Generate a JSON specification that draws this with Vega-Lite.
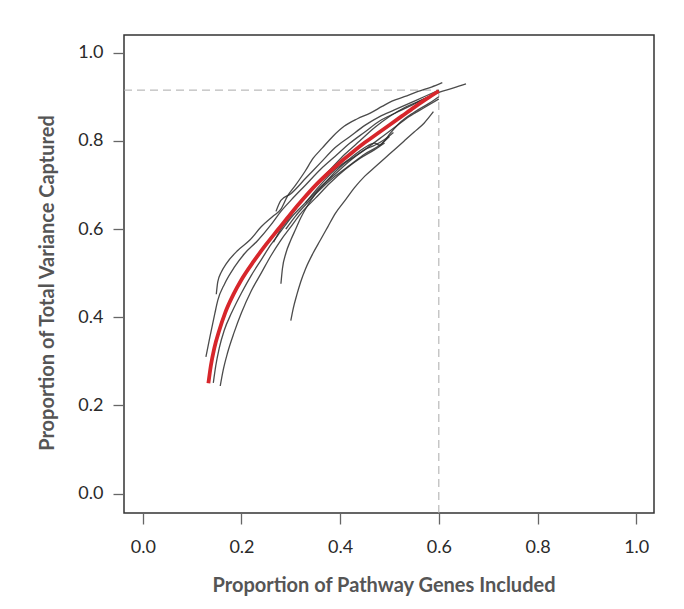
{
  "$schema": "https://vega.github.io/schema/vega-lite/v6.json",
  "width": 530,
  "height": 478,
  "autosize": {"type": "none"},
  "padding": {"left": 124, "top": 35, "right": 30, "bottom": 96},
  "background": "#ffffff",
  "config": {
    "view": {"stroke": "#333333", "strokeWidth": 1.5, "fill": "#ffffff"},
    "axis": {
      "labelFont": "Lato", "titleFont": "Lato",
      "labelFontSize": 18, "labelColor": "#2a2a2a",
      "titleFontSize": 20, "titleFontWeight": "bold", "titleColor": "#555555",
      "domain": false, "grid": false,
      "tickSize": 11, "tickColor": "#666666", "tickWidth": 1.3
    }
  },
  "datasets": {
    "curves": [
      {"id": "c1", "x": 0.149, "y": 0.452}, {"id": "c1", "x": 0.152, "y": 0.48}, {"id": "c1", "x": 0.159, "y": 0.502}, {"id": "c1", "x": 0.169, "y": 0.521}, {"id": "c1", "x": 0.193, "y": 0.552}, {"id": "c1", "x": 0.217, "y": 0.575}, {"id": "c1", "x": 0.24, "y": 0.605}, {"id": "c1", "x": 0.265, "y": 0.63}, {"id": "c1", "x": 0.28, "y": 0.645}, {"id": "c1", "x": 0.293, "y": 0.674}, {"id": "c1", "x": 0.31, "y": 0.7}, {"id": "c1", "x": 0.329, "y": 0.731}, {"id": "c1", "x": 0.345, "y": 0.76}, {"id": "c1", "x": 0.364, "y": 0.784}, {"id": "c1", "x": 0.385, "y": 0.81}, {"id": "c1", "x": 0.408, "y": 0.833}, {"id": "c1", "x": 0.435, "y": 0.85}, {"id": "c1", "x": 0.461, "y": 0.863}, {"id": "c1", "x": 0.485, "y": 0.878}, {"id": "c1", "x": 0.505, "y": 0.89}, {"id": "c1", "x": 0.53, "y": 0.9}, {"id": "c1", "x": 0.558, "y": 0.912}, {"id": "c1", "x": 0.585, "y": 0.922}, {"id": "c1", "x": 0.607, "y": 0.932},
      {"id": "c2", "x": 0.128, "y": 0.31}, {"id": "c2", "x": 0.136, "y": 0.355}, {"id": "c2", "x": 0.146, "y": 0.408}, {"id": "c2", "x": 0.152, "y": 0.438}, {"id": "c2", "x": 0.166, "y": 0.476}, {"id": "c2", "x": 0.186, "y": 0.514}, {"id": "c2", "x": 0.206, "y": 0.544}, {"id": "c2", "x": 0.233, "y": 0.574}, {"id": "c2", "x": 0.26, "y": 0.61}, {"id": "c2", "x": 0.28, "y": 0.64}, {"id": "c2", "x": 0.3, "y": 0.665}, {"id": "c2", "x": 0.33, "y": 0.7}, {"id": "c2", "x": 0.36, "y": 0.735}, {"id": "c2", "x": 0.39, "y": 0.765}, {"id": "c2", "x": 0.42, "y": 0.795}, {"id": "c2", "x": 0.45, "y": 0.82}, {"id": "c2", "x": 0.48, "y": 0.845}, {"id": "c2", "x": 0.51, "y": 0.862}, {"id": "c2", "x": 0.54, "y": 0.878}, {"id": "c2", "x": 0.57, "y": 0.895}, {"id": "c2", "x": 0.6, "y": 0.91}, {"id": "c2", "x": 0.63, "y": 0.92}, {"id": "c2", "x": 0.655, "y": 0.929},
      {"id": "c3", "x": 0.143, "y": 0.251}, {"id": "c3", "x": 0.148, "y": 0.29}, {"id": "c3", "x": 0.155, "y": 0.33}, {"id": "c3", "x": 0.165, "y": 0.37}, {"id": "c3", "x": 0.18, "y": 0.41}, {"id": "c3", "x": 0.2, "y": 0.455}, {"id": "c3", "x": 0.22, "y": 0.495}, {"id": "c3", "x": 0.24, "y": 0.53}, {"id": "c3", "x": 0.26, "y": 0.565}, {"id": "c3", "x": 0.28, "y": 0.595}, {"id": "c3", "x": 0.3, "y": 0.625}, {"id": "c3", "x": 0.33, "y": 0.66}, {"id": "c3", "x": 0.36, "y": 0.695}, {"id": "c3", "x": 0.39, "y": 0.725}, {"id": "c3", "x": 0.42, "y": 0.755}, {"id": "c3", "x": 0.45, "y": 0.78}, {"id": "c3", "x": 0.48, "y": 0.805}, {"id": "c3", "x": 0.51, "y": 0.83}, {"id": "c3", "x": 0.54, "y": 0.855}, {"id": "c3", "x": 0.57, "y": 0.875}, {"id": "c3", "x": 0.6, "y": 0.895},
      {"id": "c4", "x": 0.157, "y": 0.244}, {"id": "c4", "x": 0.163, "y": 0.28}, {"id": "c4", "x": 0.172, "y": 0.32}, {"id": "c4", "x": 0.185, "y": 0.365}, {"id": "c4", "x": 0.2, "y": 0.41}, {"id": "c4", "x": 0.22, "y": 0.46}, {"id": "c4", "x": 0.24, "y": 0.5}, {"id": "c4", "x": 0.26, "y": 0.54}, {"id": "c4", "x": 0.28, "y": 0.575}, {"id": "c4", "x": 0.3, "y": 0.605}, {"id": "c4", "x": 0.32, "y": 0.635}, {"id": "c4", "x": 0.35, "y": 0.67}, {"id": "c4", "x": 0.38, "y": 0.705}, {"id": "c4", "x": 0.41, "y": 0.735}, {"id": "c4", "x": 0.44, "y": 0.76}, {"id": "c4", "x": 0.47, "y": 0.78}, {"id": "c4", "x": 0.49, "y": 0.795},
      {"id": "c5", "x": 0.28, "y": 0.476}, {"id": "c5", "x": 0.283, "y": 0.51}, {"id": "c5", "x": 0.29, "y": 0.545}, {"id": "c5", "x": 0.3, "y": 0.575}, {"id": "c5", "x": 0.31, "y": 0.6}, {"id": "c5", "x": 0.32, "y": 0.625}, {"id": "c5", "x": 0.335, "y": 0.655}, {"id": "c5", "x": 0.35, "y": 0.68}, {"id": "c5", "x": 0.37, "y": 0.705}, {"id": "c5", "x": 0.39, "y": 0.73}, {"id": "c5", "x": 0.41, "y": 0.75}, {"id": "c5", "x": 0.43, "y": 0.765}, {"id": "c5", "x": 0.45, "y": 0.78}, {"id": "c5", "x": 0.47, "y": 0.79}, {"id": "c5", "x": 0.49, "y": 0.803}, {"id": "c5", "x": 0.508, "y": 0.819},
      {"id": "c6", "x": 0.3, "y": 0.392}, {"id": "c6", "x": 0.305, "y": 0.42}, {"id": "c6", "x": 0.312, "y": 0.45}, {"id": "c6", "x": 0.32, "y": 0.48}, {"id": "c6", "x": 0.33, "y": 0.51}, {"id": "c6", "x": 0.345, "y": 0.545}, {"id": "c6", "x": 0.36, "y": 0.575}, {"id": "c6", "x": 0.375, "y": 0.605}, {"id": "c6", "x": 0.39, "y": 0.635}, {"id": "c6", "x": 0.41, "y": 0.665}, {"id": "c6", "x": 0.43, "y": 0.695}, {"id": "c6", "x": 0.45, "y": 0.72}, {"id": "c6", "x": 0.47, "y": 0.74}, {"id": "c6", "x": 0.49, "y": 0.76}, {"id": "c6", "x": 0.51, "y": 0.78}, {"id": "c6", "x": 0.53, "y": 0.8}, {"id": "c6", "x": 0.55, "y": 0.82}, {"id": "c6", "x": 0.57, "y": 0.84}, {"id": "c6", "x": 0.589, "y": 0.866},
      {"id": "c7", "x": 0.265, "y": 0.57}, {"id": "c7", "x": 0.28, "y": 0.6}, {"id": "c7", "x": 0.3, "y": 0.63}, {"id": "c7", "x": 0.32, "y": 0.66}, {"id": "c7", "x": 0.35, "y": 0.7}, {"id": "c7", "x": 0.38, "y": 0.735}, {"id": "c7", "x": 0.41, "y": 0.77}, {"id": "c7", "x": 0.44, "y": 0.8}, {"id": "c7", "x": 0.47, "y": 0.83}, {"id": "c7", "x": 0.5, "y": 0.855}, {"id": "c7", "x": 0.53, "y": 0.875}, {"id": "c7", "x": 0.56, "y": 0.89}, {"id": "c7", "x": 0.59, "y": 0.905},
      {"id": "c8", "x": 0.27, "y": 0.64}, {"id": "c8", "x": 0.28, "y": 0.665}, {"id": "c8", "x": 0.3, "y": 0.68}, {"id": "c8", "x": 0.33, "y": 0.715}, {"id": "c8", "x": 0.36, "y": 0.75}, {"id": "c8", "x": 0.39, "y": 0.785}, {"id": "c8", "x": 0.42, "y": 0.81}, {"id": "c8", "x": 0.45, "y": 0.835}, {"id": "c8", "x": 0.48, "y": 0.855}, {"id": "c8", "x": 0.51, "y": 0.87}, {"id": "c8", "x": 0.54, "y": 0.885}, {"id": "c8", "x": 0.57, "y": 0.9}, {"id": "c8", "x": 0.6, "y": 0.915},
      {"id": "c9", "x": 0.29, "y": 0.6}, {"id": "c9", "x": 0.31, "y": 0.63}, {"id": "c9", "x": 0.33, "y": 0.655}, {"id": "c9", "x": 0.36, "y": 0.69}, {"id": "c9", "x": 0.39, "y": 0.72}, {"id": "c9", "x": 0.42, "y": 0.745}, {"id": "c9", "x": 0.45, "y": 0.77}, {"id": "c9", "x": 0.48, "y": 0.79}, {"id": "c9", "x": 0.5, "y": 0.81},
      {"id": "c10", "x": 0.33, "y": 0.66}, {"id": "c10", "x": 0.36, "y": 0.7}, {"id": "c10", "x": 0.39, "y": 0.735}, {"id": "c10", "x": 0.42, "y": 0.76}, {"id": "c10", "x": 0.45, "y": 0.785}, {"id": "c10", "x": 0.47, "y": 0.795}, {"id": "c10", "x": 0.48, "y": 0.79}, {"id": "c10", "x": 0.49, "y": 0.8}, {"id": "c10", "x": 0.5, "y": 0.815}, {"id": "c10", "x": 0.52, "y": 0.84}, {"id": "c10", "x": 0.55, "y": 0.865}, {"id": "c10", "x": 0.58, "y": 0.885}, {"id": "c10", "x": 0.6, "y": 0.9}
    ],
    "fit": [
      {"x": 0.133, "y": 0.25}, {"x": 0.138, "y": 0.29}, {"x": 0.145, "y": 0.33}, {"x": 0.155, "y": 0.37}, {"x": 0.167, "y": 0.41}, {"x": 0.183, "y": 0.45}, {"x": 0.2, "y": 0.485}, {"x": 0.225, "y": 0.527}, {"x": 0.25, "y": 0.565}, {"x": 0.275, "y": 0.6}, {"x": 0.3, "y": 0.635}, {"x": 0.325, "y": 0.668}, {"x": 0.35, "y": 0.699}, {"x": 0.375, "y": 0.726}, {"x": 0.4, "y": 0.751}, {"x": 0.425, "y": 0.774}, {"x": 0.45, "y": 0.796}, {"x": 0.475, "y": 0.816}, {"x": 0.5, "y": 0.836}, {"x": 0.525, "y": 0.856}, {"x": 0.55, "y": 0.876}, {"x": 0.575, "y": 0.895}, {"x": 0.6, "y": 0.913}
    ],
    "guides": [
      {"x": -0.038, "x2": 0.6, "y": 0.915, "y2": 0.915},
      {"x": 0.6, "x2": 0.6, "y": -0.044, "y2": 0.915}
    ]
  },
  "encoding": {
    "x": {
      "field": "x", "type": "quantitative",
      "scale": {"domain": [-0.038, 1.036], "nice": false, "zero": false},
      "axis": {
        "values": [0, 0.2, 0.4, 0.6, 0.8, 1.0], "format": ".1f",
        "title": "Proportion of Pathway Genes Included",
        "labelPadding": 14,
        "titleX": 259.5, "titleY": 78, "titleBaseline": "alphabetic"
      }
    },
    "y": {
      "field": "y", "type": "quantitative",
      "scale": {"domain": [-0.044, 1.04], "nice": false, "zero": false},
      "axis": {
        "values": [0, 0.2, 0.4, 0.6, 0.8, 1.0], "format": ".1f",
        "title": "Proportion of Total Variance Captured",
        "labelPadding": 10,
        "titleX": -71, "titleY": 247.5, "titleBaseline": "alphabetic"
      }
    }
  },
  "layer": [
    {
      "data": {"name": "guides"},
      "mark": {"type": "rule", "color": "#aaaaaa", "strokeWidth": 1, "strokeDash": [8, 5]},
      "encoding": {"x2": {"field": "x2"}, "y2": {"field": "y2"}}
    },
    {
      "data": {"name": "curves"},
      "mark": {"type": "line", "color": "#2b2b2b", "strokeWidth": 1.3, "opacity": 0.85, "interpolate": "monotone"},
      "encoding": {"detail": {"field": "id"}}
    },
    {
      "data": {"name": "fit"},
      "mark": {"type": "line", "color": "#d7262b", "strokeWidth": 3.8, "interpolate": "monotone"},
      "encoding": {}
    }
  ]
}
